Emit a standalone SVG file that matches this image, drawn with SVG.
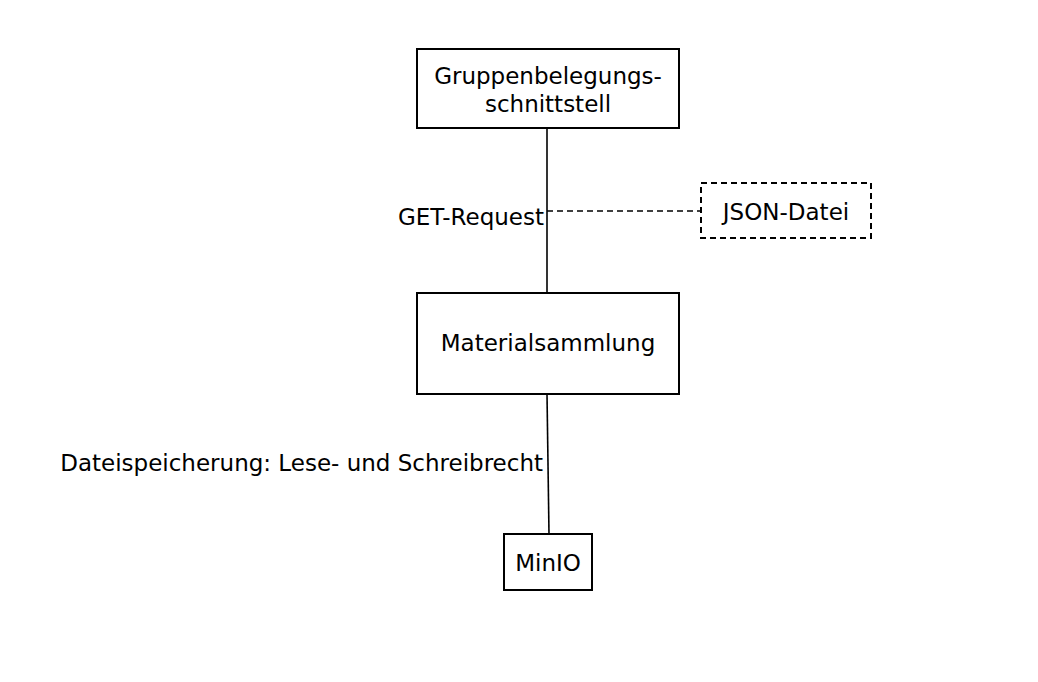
<svg xmlns="http://www.w3.org/2000/svg" width="1038" height="682" viewBox="0 0 1038 682">
<style>
.box{fill:#fff;stroke:#000;stroke-width:2}
.dash{fill:#fff;stroke:#000;stroke-width:2;stroke-dasharray:6 4}
.t{font-family:"DejaVu Sans","Liberation Sans",sans-serif;font-size:23px;fill:#000}
.c{text-anchor:middle}
.ln{stroke:#000;stroke-width:1.6;fill:none}
</style>
<rect width="1038" height="682" fill="#fff"/>
<g id="connectors">
<line class="ln" x1="547" y1="128" x2="547" y2="293"/>
<line class="ln" x1="547" y1="211" x2="701" y2="211" stroke-dasharray="6 4"/>
<line class="ln" x1="547" y1="394" x2="549" y2="534"/>
<text class="t" x="544" y="225" text-anchor="end">GET-Request</text>
<text class="t" x="543" y="471" text-anchor="end">Dateispeicherung: Lese- und Schreibrecht</text>
</g>
<g id="gruppen">
<rect class="box" x="417" y="49" width="262" height="79"/>
<text class="t c" x="548" y="84">Gruppenbelegungs-</text>
<text class="t c" x="548" y="112">schnittstell</text>
</g>
<g id="json">
<rect class="dash" x="701" y="183" width="170" height="55"/>
<text class="t c" x="786" y="220">JSON-Datei</text>
</g>
<g id="material">
<rect class="box" x="417" y="293" width="262" height="101"/>
<text class="t c" x="548" y="351">Materialsammlung</text>
</g>
<g id="minio">
<rect class="box" x="504" y="534" width="88" height="56"/>
<text class="t c" x="548" y="571">MinIO</text>
</g>
</svg>
